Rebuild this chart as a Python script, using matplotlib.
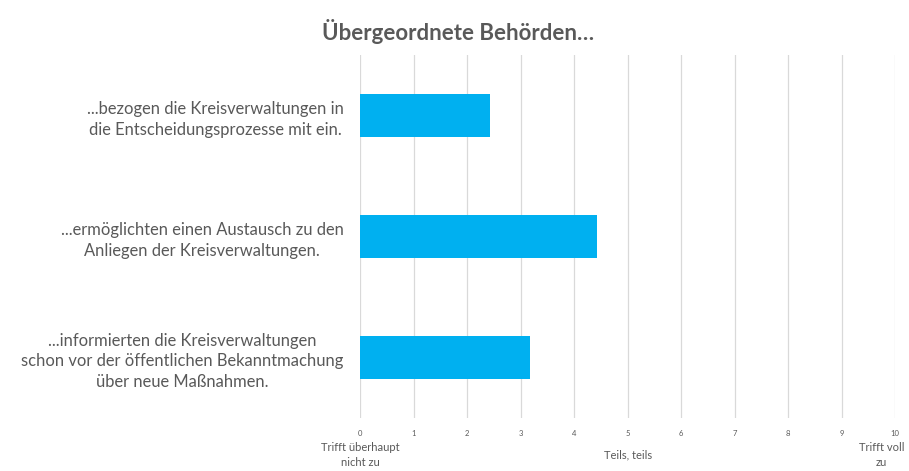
import matplotlib.pyplot as plt
import matplotlib.transforms as mtransforms

# data
statements = [
    "...bezogen die Kreisverwaltungen in\ndie Entscheidungsprozesse mit ein.",
    "...ermöglichten einen Austausch zu den\nAnliegen der Kreisverwaltungen.",
    "...informierten die Kreisverwaltungen\nschon vor der öffentlichen Bekanntmachung\nüber neue Maßnahmen.",
]
scores = [2.43, 4.43, 3.17]
ticks = list(range(0, 11))
anchor_pos = [0, 5, 9.75]
anchor_labels = ["Trifft überhaupt\nnicht zu", "Teils, teils", "Trifft voll\nzu"]

plt.rcParams['font.family'] = ['Lato', 'DejaVu Sans']
grey = '#595959'

fig = plt.figure(figsize=(9.09, 4.71), dpi=100)
ax = fig.add_axes([360.3 / 909, (471 - 418) / 471, (895 - 360.3) / 909, (418 - 55) / 471])

ypos = list(range(len(statements)))
ax.barh(ypos, scores, height=0.355, color='#00b0f0', zorder=3)
ax.set_ylim(len(statements) - 0.5, -0.5)
ax.set_xlim(0, 10)

ax.set_yticks(ypos)
ax.set_yticklabels(statements, fontsize=11.9, color=grey, multialignment='center', linespacing=1.35)
ax.set_xticks(ticks)
ax.set_xticklabels([str(t) for t in ticks], fontsize=5.5, color=grey)
ax.tick_params(axis='both', length=0)
ax.tick_params(axis='y', pad=12)
ax.tick_params(axis='x', pad=9)

ax.grid(axis='x', color='#d9d9d9', linewidth=0.9, zorder=0)
for s in ax.spines.values():
    s.set_visible(False)

trans = mtransforms.blended_transform_factory(ax.transData, fig.transFigure)
for x, lab in zip(anchor_pos, anchor_labels):
    ax.text(x, (471 - 455) / 471, lab, transform=trans, ha='center', va='center',
            fontsize=8, color=grey, linespacing=1.45)

fig.text(458 / 909, (471 - 32) / 471, "Übergeordnete Behörden…", ha='center', va='center',
         fontsize=16, fontweight='bold', color=grey)

fig.savefig('out.png', dpi=100)
